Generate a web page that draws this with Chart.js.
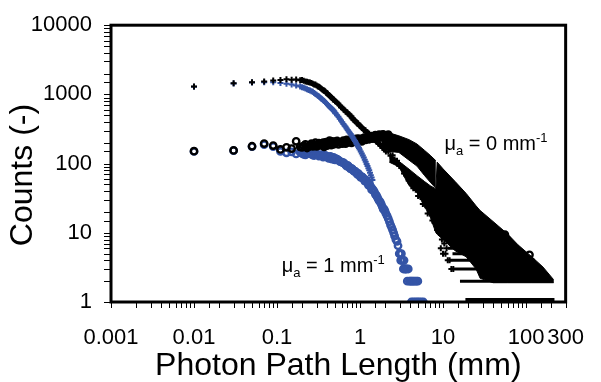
<!DOCTYPE html>
<html>
<head>
<meta charset="utf-8">
<script src="https://cdn.jsdelivr.net/npm/chart.js@4.4.0/dist/chart.umd.min.js"></script>
<style>
  body { margin: 0; background: #fff; }
  canvas { display: block; }
</style>
</head>
<body>
<canvas id="pathChart" width="601" height="382"></canvas>
<script>
// Photon path length histograms (mm, counts)

// mu_a = 0 mm-1, "+" markers
var plusMu0X = [0.01,0.03,0.05,0.07,0.09,0.11,0.13,0.15,0.17,0.19,
    0.21,0.23,0.25,0.27,0.29,0.31,0.33,0.35,0.37,0.39,0.41,0.43,0.45,0.47,0.49,
    0.51,0.55,0.59,0.63,0.67,0.71,0.75,0.79,0.83,0.87,0.91,0.95,0.99,
    1.05,1.11,1.17,1.23,1.29,1.35,1.41,
    1.49,1.57,1.65,1.75,1.85,1.95,2.05,
    2.19,2.33,2.47,2.61,2.79,2.97,
    3.17,3.39,3.61,3.85,4.11,4.39,4.69,
    5.01,5.35,5.71,6.11,6.53,6.97,7.45,7.95,8.49,9.07,9.69,10.35,11.05,
    9.4,10,10.7,11.4,12,12.6,13.3,
    0.2,0.22,0.24,0.26,0.28,0.3,0.32,0.34,0.36,0.38,0.4,0.42,0.44,0.46,0.48,0.5,
    0.53,0.57,0.61,0.65,0.69,0.73,0.77,0.81,0.85,0.89,0.93,0.97,
    1.02,1.08,1.14,1.2,1.26,1.32,1.38,1.45,1.53,1.61,1.7,1.8,1.9,2.0];
var plusMu0Y = [1300,1450,1500,1530,1590,1610,1650,1630,1640,1600,
    1570,1520,1490,1420,1390,1300,1260,1180,1140,1060,1020,950,920,850,830,
    780,730,650,620,560,545,495,480,430,420,385,380,350,
    335,305,300,275,270,245,245,
    220,215,195,190,170,168,150,
    148,130,132,115,110,92,
    90,72,70,57,55,44,42,
    34,33,26,25,19,19,15,14,11,10,8,7,6,
    6,5,5,4,4,3,3,
    1620,1540,1500,1460,1390,1350,1290,1220,1150,1110,1040,980,930,890,845,800,
    760,690,640,590,555,515,490,450,425,405,380,365,
    345,320,305,285,272,258,248,232,218,205,192,180,168,160];

// mu_a = 1 mm-1, "+" markers
var plusMu1X = [0.01,0.03,0.05,0.07,0.09,0.11,0.13,0.15,0.17,0.19,
    0.21,0.23,0.25,0.27,0.29,0.31,0.33,0.35,0.37,0.39,0.41,0.43,0.45,0.47,0.49,
    0.51,0.55,0.59,0.63,0.67,0.71,0.75,0.79,0.83,0.87,0.91,0.95,0.99,
    1.05,1.11,1.17,1.23,1.29,1.35,1.41,
    0.2,0.22,0.24,0.26,0.28,0.3,0.32,0.34,0.36,0.38,0.4,0.42,0.44,0.46,0.48,0.5,
    0.53,0.57,0.61,0.65,0.69,0.73,0.77,0.81,0.85,0.89,0.93,0.97,
    1.02,1.08,1.14,1.2,1.26,1.32,1.38];
var plusMu1Y = [1290,1440,1480,1500,1500,1460,1430,1390,1350,1300,
    1250,1190,1140,1090,1010,960,900,850,800,750,700,665,630,600,565,
    530,475,420,375,340,305,280,255,232,212,192,175,160,
    140,122,106,92,80,68,58,
    1270,1220,1160,1110,1050,985,930,875,825,775,725,680,645,615,585,545,
    500,445,395,355,322,292,268,244,222,202,184,168,
    150,131,114,99,86,74,63];

// mu_a = 0 mm-1, "o" markers
var circMu0X = [0.01,0.03,0.05,0.07,0.09,0.11,0.13,0.15,0.17,0.19,
    0.21,0.23,0.25,0.27,0.29,0.31,0.33,0.35,0.37,0.39,0.41,0.43,0.45,0.47,0.49,
    0.51,0.55,0.59,0.63,0.67,0.71,0.75,0.79,0.83,0.87,0.91,0.95,0.99,
    1.05,1.11,1.17,1.23,1.29,1.35,1.41,
    1.49,1.57,1.65,1.75,1.85,1.95,2.05,
    2.19,
    55.6,60,110,116,125,
    0.2,0.22,0.24,0.26,0.28,0.3,0.32,0.34,0.36,0.38,0.4,0.42,0.44,0.46,0.48,0.5,
    0.53,0.57,0.61,0.65,0.69,0.73,0.77,0.81,0.85,0.89,0.93,0.97,
    1.02,1.08,1.14,1.2,1.26,1.32,1.38,1.45,1.53,1.61,1.7,1.8,1.9,2.0];
var circMu0Y = [151,155,178,195,182,160,172,165,210,175,
    180,168,185,178,200,182,190,188,175,205,192,215,185,198,205,
    210,190,200,215,195,205,220,200,212,225,205,218,228,
    210,235,220,240,225,245,230,
    250,235,255,240,260,245,255,
    262,
    9.4,7.8,4.8,3.8,2.9,
    172,190,176,195,185,178,198,183,200,190,182,200,195,210,190,200,
    212,205,195,210,220,205,215,222,208,218,230,215,
    225,218,238,228,248,235,250,242,258,245,262,250,265,250];

// mu_a = 1 mm-1, "o" markers
var circMu1X = [0.01,0.03,0.05,0.07,0.09,0.11,0.13,0.15,0.17,0.19,
    0.21,0.23,0.25,0.27,0.29,0.31,0.33,0.35,0.37,0.39,0.41,0.43,0.45,0.47,0.49,
    0.51,0.55,0.59,0.63,0.67,0.71,0.75,0.79,0.83,0.87,0.91,0.95,0.99,
    1.05,1.11,1.17,1.23,1.29,1.35,1.41,
    1.49,1.57,1.65,1.75,1.85,1.95,2.05,
    2.12,2.19,2.26,2.33,2.4,2.47,2.54,2.61,2.7,2.79,2.87,2.97,
    3.03,3.09,3.15,3.21,3.27,3.33,3.39,3.47,3.55,3.63,3.71,3.81,3.93,4.05,4.17,4.31,4.45,4.61,4.79,4.97,
    4.15,4.4,4.65,4.9,5.15,5.45,5.8,
    0.2,0.22,0.24,0.26,0.28,0.3,0.32,0.34,0.36,0.38,0.4,0.42,0.44,0.46,0.48,0.5,
    0.53,0.57,0.61,0.65,0.69,0.73,0.77,0.81,0.85,0.89,0.93,0.97,
    1.02,1.08,1.14,1.2,1.26,1.32,1.38,1.45,1.53,1.61,1.7,1.8,1.9,2.0];
var circMu1Y = [150,154,176,188,176,150,143,148,138,146,
    136,142,139,133,140,134,130,133,126,129,122,125,118,121,115,
    118,112,106,103,96,94,87,85,80,78,73,72,67,
    65,60,58,53,51,46,43,
    39,35,31,28,24,22,19,
    17.5,16,14.5,13,12,11,10,9,8,7.5,6.5,5,
    5,4,5,4,4,3,4,3,3,3,2,3,2,2,2,2,2,2,2,2,
    1,1,1,1,1,1,1,
    140,134,145,137,131,138,128,135,124,131,126,119,127,116,123,113,
    116,108,104,100,92,91,84,83,77,76,70,70,
    63,63,56,56,49,48,42,41,36,33,29,26,22,20.5];

// mu_a = 0: dense cloud where the markers merge (upper and lower edge of the black area)
var cloudUpperX = [1.8, 2.25, 2.94, 3.9, 4.85, 6, 7, 8.2];
var cloudUpperTop = [285, 278, 252, 222, 192, 155, 132, 110];
var cloudUpperBottom = [195, 150, 145, 112, 92, 67, 54, 44];

var cloudLowerX = [2.25, 2.94, 3.9, 4.85, 6, 7, 8.2, 8.5, 10, 14, 19, 25, 28, 40, 60, 80, 115, 160, 215];
var cloudLowerTop = [135, 108, 83, 67, 55, 48, 43, 105, 84, 55, 37, 24.5, 21, 14.6, 9.6, 6.7, 4.6, 3.2, 2.1];
var cloudLowerBottom = [105, 90, 48, 38, 24, 17, 10, 9.5, 8, 5.5, 4.5, 3, 2.2, 1.9, 1.9, 1.9, 1.9, 1.9, 1.9];

// runs of equal low counts (rows of markers at 1, 2, 3 ... counts)
var bandCounts = [1, 2, 3, 4, 5, 6];
var bandStart = [18.6, 16, 12.4, 11.8, 13, 11.5];
var bandEnd = [220, 215, 134, 116, 95, 75];

// axis labels
var xTickLabels = [0.001, 0.01, 0.1, 1, 10, 100, 300];
var yTickLabels = [1, 10, 100, 1000, 10000];


var fontFamily = '"Liberation Sans", Arial, sans-serif';
var black = '#000000';
var blue = '#3454a6';

function pts(xs, ys) {
    return xs.map(function (x, i) { return {x: x, y: ys[i]}; });
}

function pickLabel(list, value) {
    for (var i = 0; i < list.length; i++) {
        if (Math.abs(list[i] - value) / list[i] < 1e-6) return String(list[i]);
    }
    return '';
}

var datasets = [];

// drawing order: first dataset ends up on top
datasets.push({
    type: 'scatter', data: pts(plusMu0X, plusMu0Y),
    pointStyle: 'cross', pointRadius: 3, pointBorderWidth: 2,
    pointBorderColor: black, pointBackgroundColor: black, clip: 0
});
datasets.push({
    type: 'scatter', data: pts(plusMu1X, plusMu1Y),
    pointStyle: 'cross', pointRadius: 3, pointBorderWidth: 2,
    pointBorderColor: blue, pointBackgroundColor: blue, clip: 0
});
datasets.push({
    type: 'scatter', data: pts(circMu0X, circMu0Y),
    pointStyle: 'circle', pointRadius: 3.2, pointBorderWidth: 2.4,
    pointBorderColor: black, pointBackgroundColor: 'rgba(0,0,0,0)', clip: 0
});
bandCounts.forEach(function (c, i) {
    datasets.push({
        type: 'line',
        data: [{x: bandStart[i], y: c}, {x: bandEnd[i], y: c}],
        borderColor: black, borderWidth: c === 1 ? 8 : 3,
        pointRadius: 0, fill: false, clip: 0
    });
});
datasets.push({
    type: 'line', data: pts(cloudUpperX, cloudUpperTop),
    borderColor: black, borderWidth: 1, pointRadius: 0,
    backgroundColor: black, fill: '+1', clip: 0
});
datasets.push({
    type: 'line', data: pts(cloudUpperX, cloudUpperBottom),
    borderColor: black, borderWidth: 1, pointRadius: 0, fill: false, clip: 0
});
datasets.push({
    type: 'line', data: pts(cloudLowerX, cloudLowerTop),
    borderColor: black, borderWidth: 1, pointRadius: 0,
    backgroundColor: black, fill: '+1', clip: 0
});
datasets.push({
    type: 'line', data: pts(cloudLowerX, cloudLowerBottom),
    borderColor: black, borderWidth: 1, pointRadius: 0, fill: false, clip: 0
});
datasets.push({
    type: 'scatter', data: pts(circMu1X, circMu1Y),
    pointStyle: 'circle', pointRadius: 3.2, pointBorderWidth: 2.4,
    pointBorderColor: blue, pointBackgroundColor: 'rgba(0,0,0,0)', clip: 0
});


// frame, tick marks, y title and the two mu_a notes
var framePlugin = {
    id: 'frame',
    afterDatasetsDraw: function (chart) {
        var ctx = chart.ctx;
        var a = chart.chartArea;
        var xs = chart.scales.x, ys = chart.scales.y;
        ctx.save();

        drawNote(ctx, xs.getPixelForValue(10.4), ys.getPixelForValue(157), '0');
        drawNote(ctx, xs.getPixelForValue(0.114), ys.getPixelForValue(2.72), '1');

        ctx.strokeStyle = black;
        ctx.lineWidth = 1;
        ctx.beginPath();
        xs.ticks.forEach(function (t) {
            var p = Math.round(xs.getPixelForValue(t.value)) + 0.5;
            ctx.moveTo(p, a.bottom);
            ctx.lineTo(p, a.bottom + 6);
        });
        ys.ticks.forEach(function (t) {
            var p = Math.round(ys.getPixelForValue(t.value)) + 0.5;
            ctx.moveTo(a.left - 7, p);
            ctx.lineTo(a.left, p);
        });
        ctx.stroke();

        ctx.lineWidth = 3;
        ctx.strokeRect(a.left, a.top, a.right - a.left, a.bottom - a.top);

        ctx.translate(23, 175);
        ctx.rotate(-Math.PI / 2);
        ctx.fillStyle = black;
        ctx.font = '32px ' + fontFamily;
        ctx.textAlign = 'center';
        ctx.textBaseline = 'middle';
        ctx.fillText('Counts (-)', 0, 0);
        ctx.restore();
    }
};

function drawNote(ctx, x, y, val) {
    ctx.fillStyle = black;
    ctx.textBaseline = 'alphabetic';
    ctx.textAlign = 'left';
    ctx.font = '20px ' + fontFamily;
    ctx.fillText('\u03bc', x, y);
    x += ctx.measureText('\u03bc').width;
    ctx.font = '13px ' + fontFamily;
    ctx.fillText('a', x, y + 5);
    x += ctx.measureText('a').width;
    ctx.font = '20px ' + fontFamily;
    var main = ' = ' + val + ' mm';
    ctx.fillText(main, x, y);
    x += ctx.measureText(main).width;
    ctx.font = '13px ' + fontFamily;
    ctx.fillText('-1', x, y - 8);
}


var ctx = document.getElementById('pathChart').getContext('2d');
var pathChart = new Chart(ctx, {
    type: 'scatter',
    data: {datasets: datasets},
    options: {
        responsive: false,
        animation: false,
        devicePixelRatio: 1,
        layout: {padding: {left: 0, right: 34, top: 17, bottom: 0}},
        plugins: {
            legend: {display: false},
            tooltip: {enabled: false}
        },
        scales: {
            x: {
                type: 'logarithmic',
                min: 0.001,
                max: 300,
                afterFit: function (s) { s.height = 80; },
                border: {display: false},
                grid: {drawOnChartArea: false, drawTicks: true, tickLength: 6, color: 'rgba(0,0,0,0)'},
                ticks: {
                    autoSkip: false, maxRotation: 0, padding: 17, color: black,
                    font: {family: fontFamily, size: 22},
                    callback: function (value) { return pickLabel(xTickLabels, value); }
                },
                title: {
                    display: true, text: 'Photon Path Length (mm)', color: black,
                    font: {family: fontFamily, size: 32, lineHeight: 1},
                    padding: {top: 0, bottom: 0}
                }
            },
            y: {
                type: 'logarithmic',
                min: 1,
                max: 10000,
                afterFit: function (s) { s.width = 111; },
                border: {display: false},
                grid: {drawOnChartArea: false, drawTicks: true, tickLength: 7, color: 'rgba(0,0,0,0)'},
                ticks: {
                    autoSkip: false, padding: 12, color: black,
                    font: {family: fontFamily, size: 22},
                    callback: function (value) { return pickLabel(yTickLabels, value); }
                },
                title: {display: false}
            }
        }
    },
    plugins: [framePlugin]
});
</script>
</body>
</html>
